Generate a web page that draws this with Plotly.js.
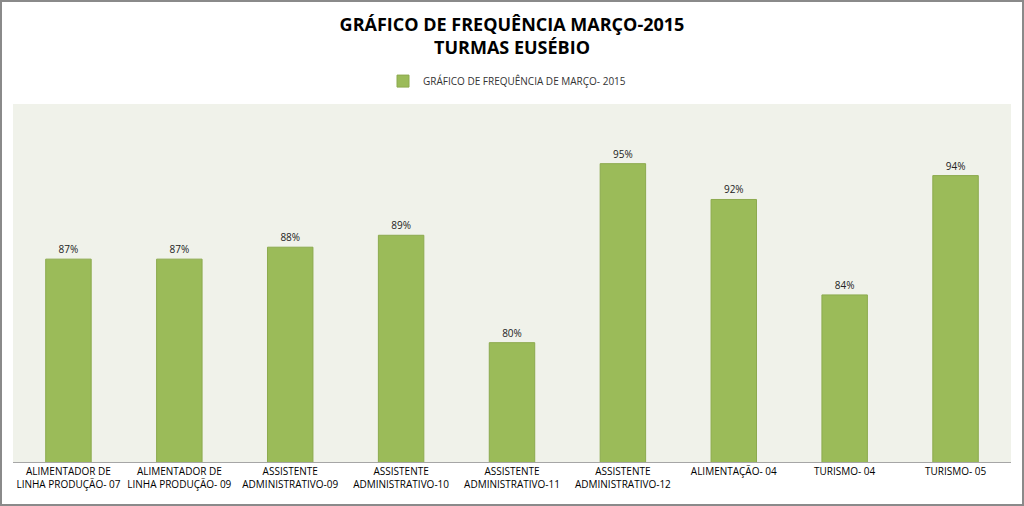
<!DOCTYPE html>
<html><head><meta charset="utf-8">
<script src="https://cdn.plot.ly/plotly-3.0.1.min.js"></script>
<style>
html,body{margin:0;padding:0;background:#fff;}
#wrap{position:relative;width:1024px;height:506px;}
#chart{width:1024px;height:506px;}
#frame{position:absolute;left:0;top:0;width:1024px;height:506px;box-sizing:border-box;border:2px solid #8a8a8a;pointer-events:none;}
</style></head>
<body>
<div id="wrap"><div id="chart"></div><div id="frame"></div></div>
<script>
const categories = [
  "ALIMENTADOR DE<br>LINHA PRODUÇÃO- 07",
  "ALIMENTADOR DE<br>LINHA PRODUÇÃO- 09",
  "ASSISTENTE<br>ADMINISTRATIVO-09",
  "ASSISTENTE<br>ADMINISTRATIVO-10",
  "ASSISTENTE<br>ADMINISTRATIVO-11",
  "ASSISTENTE<br>ADMINISTRATIVO-12",
  "ALIMENTAÇÃO- 04",
  "TURISMO- 04",
  "TURISMO- 05"
];
const values = [0.87, 0.87, 0.88, 0.89, 0.80, 0.95, 0.92, 0.84, 0.94];
const labels = ["87%","87%","88%","89%","80%","95%","92%","84%","94%"];
const seriesName = "GRÁFICO DE FREQUÊNCIA DE MARÇO- 2015";

const font = "Open Sans, Liberation Sans, sans-serif";
Plotly.newPlot("chart", [{
  type: "bar",
  x: categories,
  y: values,
  name: seriesName,
  text: labels,
  textposition: "outside",
  cliponaxis: false,
  textfont: {family: font, size: 10, color: "#222"},
  marker: {color: "#9BBB59", line: {color: "#8CAA4E", width: 1}},
  showlegend: true,
  hoverinfo: "x+y"
}], {
  width: 1024, height: 506,
  margin: {l: 13, r: 13, t: 104, b: 44},
  paper_bgcolor: "#ffffff",
  plot_bgcolor: "#F0F2EA",
  bargap: 0.59,
  title: {
    text: "<b>GRÁFICO DE FREQUÊNCIA MARÇO-2015<br>TURMAS EUSÉBIO</b>",
    font: {family: font, size: 18, color: "#000"},
    x: 0.5, xanchor: "center", xref: "paper",
    yref: "container", y: 0.939, yanchor: "middle"
  },
  legend: {
    orientation: "h", x: 0.495, xanchor: "center", y: 1.064, yanchor: "middle",
    font: {family: font, size: 10, color: "#333"},
    bgcolor: "rgba(0,0,0,0)", itemwidth: 30
  },
  xaxis: {
    showgrid: false, showline: true, linecolor: "#A6A6A6", linewidth: 1,
    ticks: "", tickangle: 0,
    tickfont: {family: font, size: 10, color: "#000"}
  },
  yaxis: {
    range: [0.70, 1.00], visible: false, showgrid: false, zeroline: false
  }
}, {displayModeBar: false, staticPlot: true});
</script>
</body></html>
